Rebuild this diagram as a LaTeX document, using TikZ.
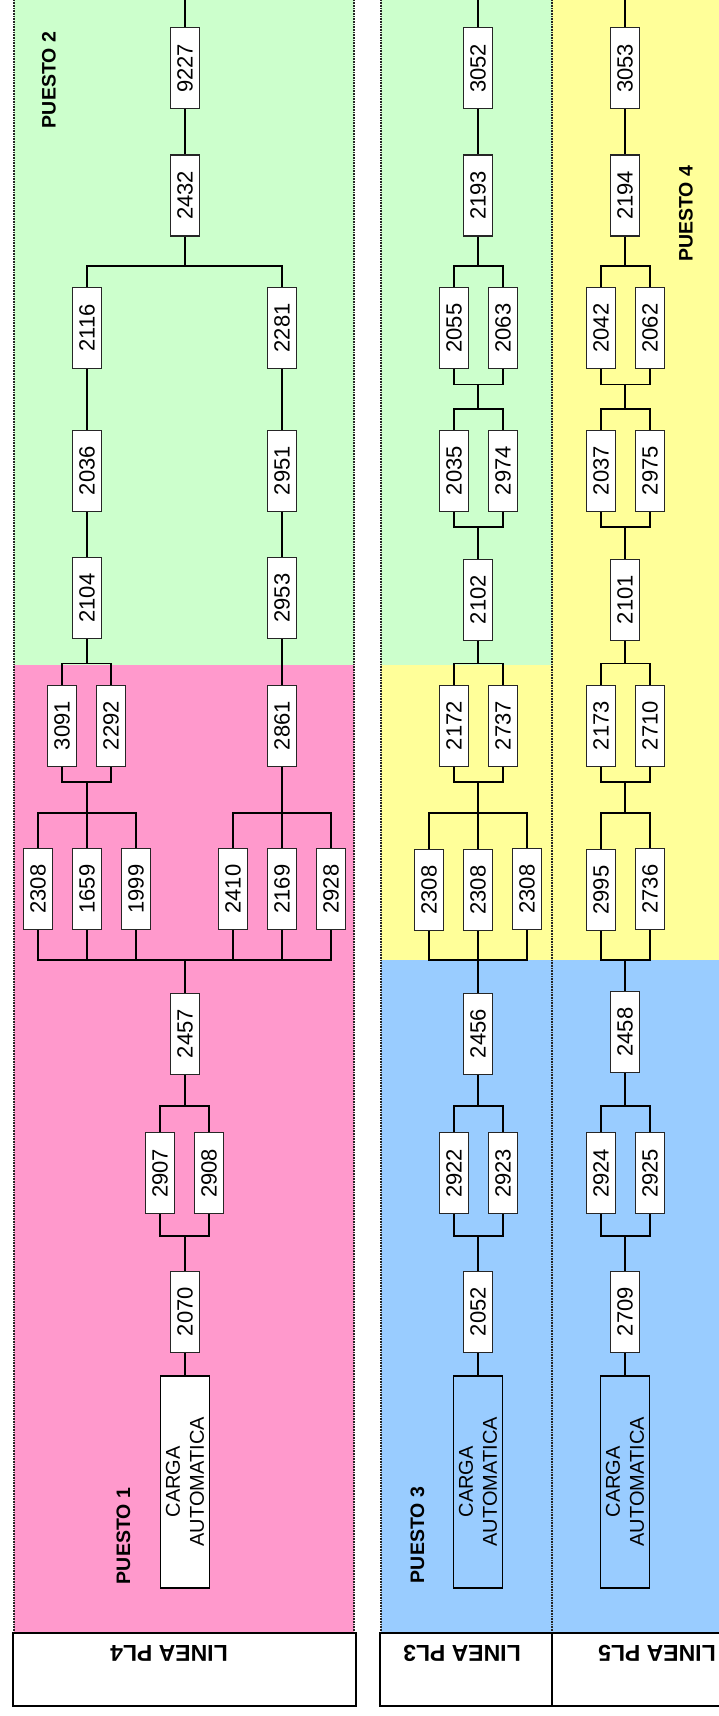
\documentclass[tikz,border=0pt]{standalone}
\usepackage{fontspec}
\setmainfont{Liberation Sans}
\definecolor{pgreen}{HTML}{CCFFCC}
\definecolor{ppink}{HTML}{FF99CC}
\definecolor{pyellow}{HTML}{FFFF99}
\definecolor{pblue}{HTML}{99CCFF}
% two parallel stations joined by a bar above and a bar below
\newcommand\pairwire[4]{%
  \draw[wire] (#1) -- (#1 |- #3) -- (#2 |- #3) -- (#2);
  \draw[wire] (#1) -- (#1 |- #4) -- (#2 |- #4) -- (#2);}
\begin{document}
\begin{tikzpicture}[x=1pt,y=-1pt,
  num/.style={draw=black!85, fill=white, line width=1.1pt, rotate=90,
    minimum width=81pt, minimum height=29pt, inner sep=0pt,
    font=\fontsize{22}{26}\selectfont},
  load/.style={draw=black, line width=1.6pt, rotate=90,
    minimum width=212pt, minimum height=49pt, inner sep=0pt, align=center,
    font=\fontsize{20}{24}\selectfont},
  wire/.style={line width=1.6pt, black},
  lane/.style={line width=1.6pt, black!85, dash pattern=on 0.8pt off 0.8pt},
  head/.style={draw=black, line width=1.6pt},
  puesto/.style={rotate=90, inner sep=0pt, font=\bfseries\fontsize{19.5}{22}\selectfont},
  linea/.style={rotate=180, inner sep=0pt, font=\bfseries\fontsize{23}{26}\selectfont}
]
\useasboundingbox (0,0) rectangle (719,1716);

% ---------- coloured zones ----------
\fill[pgreen]  (14,0)    rectangle (354,665);
\fill[ppink]   (14,665)  rectangle (354,1633);
\fill[pgreen]  (381,0)   rectangle (552,665);
\fill[pyellow] (381,665) rectangle (552,960);
\fill[pblue]   (381,960) rectangle (552,1633);
\fill[pyellow] (552,0)   rectangle (719,960);
\fill[pblue]   (552,960) rectangle (719,1633);

% ---------- lane borders ----------
\draw[lane] (14,0)  -- (14,1633);
\draw[lane] (354,0) -- (354,1633);
\draw[lane] (381,0) -- (381,1633);
\draw[lane] (552,0) -- (552,1633);

% ---------- line headers ----------
\draw[head] (12.7,1633) rectangle (356,1706);
\draw[head] (380,1633) rectangle (552,1706);
\draw[head] (719,1633) -- (552,1633) -- (552,1706) -- (719,1706);
\node[linea] (l4) at (169,1653) {LINEA PL4};
\node[linea] (l3) at (462,1653) {LINEA PL3};
\node[linea] (l5) at (657,1653) {LINEA PL5};

% ---------- station labels ----------
\node[puesto] (p2) at (49,80)       {PUESTO 2};
\node[puesto] (p1) at (123.5,1536)  {PUESTO 1};
\node[puesto] (p3) at (417.5,1535)  {PUESTO 3};
\node[puesto] (p4) at (686,213.7)   {PUESTO 4};

% =========== LINEA PL4 ===========
\node[num] (n9227) at (185,68.3)   {9227};
\node[num] (n2432) at (185,195.5)  {2432};
\node[num] (n2116) at (87,327.8)   {2116};
\node[num] (n2281) at (282,327.8)  {2281};
\node[num] (n2036) at (87,470.7)   {2036};
\node[num] (n2951) at (282,470.7)  {2951};
\node[num] (n2104) at (87,598.2)   {2104};
\node[num] (n2953) at (282,598.2)  {2953};
\node[num] (n3091) at (62,725.7)   {3091};
\node[num] (n2292) at (111,725.7)  {2292};
\node[num] (n2861) at (282,725.7)  {2861};
\node[num] (n2308l) at (38,889)    {2308};
\node[num] (n1659) at (87,889)     {1659};
\node[num] (n1999) at (136,889)    {1999};
\node[num] (n2410) at (233,889)    {2410};
\node[num] (n2169) at (282,889)    {2169};
\node[num] (n2928) at (331,889)    {2928};
\node[num] (n2457) at (185,1033.7) {2457};
\node[num] (n2907) at (160,1173.3) {2907};
\node[num] (n2908) at (209,1173.3) {2908};
\node[num] (n2070) at (185,1311.7) {2070};
\node[load, fill=white] (loadL) at (185,1481.8) {CARGA\\AUTOMATICA};

\coordinate (tL) at (185,0);
\coordinate (aL) at (185,266);
\coordinate (bL) at (87,663.3);
\coordinate (cL) at (87,781.7);
\coordinate (dL) at (87,812.7);
\coordinate (eL) at (185,960);
\coordinate (fL) at (185,1105.7);
\coordinate (gL) at (185,1235.7);

\draw[wire] (tL) -- (n9227);
\draw[wire] (n9227) -- (n2432);
\draw[wire] (n2432) -- (aL);
\draw[wire] (n2116) -- (n2116 |- aL) -- (n2281 |- aL) -- (n2281);
\draw[wire] (n2116) -- (n2036);
\draw[wire] (n2036) -- (n2104);
\draw[wire] (n2281) -- (n2951);
\draw[wire] (n2951) -- (n2953);
\draw[wire] (n2104) -- (bL);
\pairwire{n3091}{n2292}{bL}{cL}
\draw[wire] (cL) -- (dL);
\draw[wire] (n2308l) -- (n2308l |- dL) -- (n1999 |- dL) -- (n1999);
\draw[wire] (n1659) -- (dL);
\draw[wire] (n2953) -- (n2861);
\draw[wire] (n2861) -- (n2169);
\draw[wire] (n2410) -- (n2410 |- dL) -- (n2928 |- dL) -- (n2928);
\draw[wire] (n2308l) -- (n2308l |- eL) -- (n2928 |- eL) -- (n2928);
\draw[wire] (n1659) -- (n1659 |- eL);
\draw[wire] (n1999) -- (n1999 |- eL);
\draw[wire] (n2410) -- (n2410 |- eL);
\draw[wire] (n2169) -- (n2169 |- eL);
\draw[wire] (eL) -- (n2457);
\draw[wire] (n2457) -- (fL);
\pairwire{n2907}{n2908}{fL}{gL}
\draw[wire] (gL) -- (n2070);
\draw[wire] (n2070) -- (loadL);

% =========== LINEA PL3 ===========
\node[num] (n3052) at (478,68.3)   {3052};
\node[num] (n2193) at (478,195.5)  {2193};
\node[num] (n2055) at (454,328)    {2055};
\node[num] (n2063) at (503,328)    {2063};
\node[num] (n2035) at (454,470.7)  {2035};
\node[num] (n2974) at (503,470.7)  {2974};
\node[num] (n2102) at (478,599.7)  {2102};
\node[num] (n2172) at (454,725.7)  {2172};
\node[num] (n2737) at (503,725.7)  {2737};
\node[num] (n2308a) at (429,890)   {2308};
\node[num] (n2308b) at (478,890)   {2308};
\node[num] (n2308c) at (527,889)   {2308};
\node[num] (n2456) at (478,1033.7) {2456};
\node[num] (n2922) at (454,1173.3) {2922};
\node[num] (n2923) at (503,1173.3) {2923};
\node[num] (n2052) at (478,1311.7) {2052};
\node[load] (loadM) at (478,1481.8) {CARGA\\AUTOMATICA};

\coordinate (tM) at (478,0);
\coordinate (aM) at (478,266);
\coordinate (bM) at (478,384.3);
\coordinate (cM) at (478,409);
\coordinate (dM) at (478,526.7);
\coordinate (eM) at (478,663.3);
\coordinate (fM) at (478,781.7);
\coordinate (gM) at (478,812.7);
\coordinate (hM) at (478,960);
\coordinate (iM) at (478,1105.7);
\coordinate (kM) at (478,1235.7);

\draw[wire] (tM) -- (n3052);
\draw[wire] (n3052) -- (n2193);
\draw[wire] (n2193) -- (aM);
\pairwire{n2055}{n2063}{aM}{bM}
\draw[wire] (bM) -- (cM);
\pairwire{n2035}{n2974}{cM}{dM}
\draw[wire] (dM) -- (n2102);
\draw[wire] (n2102) -- (eM);
\pairwire{n2172}{n2737}{eM}{fM}
\draw[wire] (fM) -- (gM);
\pairwire{n2308a}{n2308c}{gM}{hM}
\draw[wire] (n2308b) -- (gM);
\draw[wire] (n2308b) -- (hM);
\draw[wire] (hM) -- (n2456);
\draw[wire] (n2456) -- (iM);
\pairwire{n2922}{n2923}{iM}{kM}
\draw[wire] (kM) -- (n2052);
\draw[wire] (n2052) -- (loadM);

% =========== LINEA PL5 ===========
\node[num] (n3053) at (625,68.3)   {3053};
\node[num] (n2194) at (625,195.5)  {2194};
\node[num] (n2042) at (601,328)    {2042};
\node[num] (n2062) at (650,328)    {2062};
\node[num] (n2037) at (601,470.7)  {2037};
\node[num] (n2975) at (650,470.7)  {2975};
\node[num] (n2101) at (625,599.7)  {2101};
\node[num] (n2173) at (601,725.7)  {2173};
\node[num] (n2710) at (650,725.7)  {2710};
\node[num] (n2995) at (601,890)    {2995};
\node[num] (n2736) at (650,889)    {2736};
\node[num] (n2458) at (625,1032)   {2458};
\node[num] (n2924) at (601,1173.3) {2924};
\node[num] (n2925) at (650,1173.3) {2925};
\node[num] (n2709) at (625,1311.7) {2709};
\node[load] (loadR) at (625,1481.8) {CARGA\\AUTOMATICA};

\coordinate (tR) at (625,0);
\coordinate (aR) at (625,266);
\coordinate (bR) at (625,384.3);
\coordinate (cR) at (625,409);
\coordinate (dR) at (625,526.7);
\coordinate (eR) at (625,663.3);
\coordinate (fR) at (625,781.7);
\coordinate (gR) at (625,812.7);
\coordinate (hR) at (625,960);
\coordinate (iR) at (625,1105.7);
\coordinate (kR) at (625,1235.7);

\draw[wire] (tR) -- (n3053);
\draw[wire] (n3053) -- (n2194);
\draw[wire] (n2194) -- (aR);
\pairwire{n2042}{n2062}{aR}{bR}
\draw[wire] (bR) -- (cR);
\pairwire{n2037}{n2975}{cR}{dR}
\draw[wire] (dR) -- (n2101);
\draw[wire] (n2101) -- (eR);
\pairwire{n2173}{n2710}{eR}{fR}
\draw[wire] (fR) -- (gR);
\pairwire{n2995}{n2736}{gR}{hR}
\draw[wire] (hR) -- (n2458);
\draw[wire] (n2458) -- (iR);
\pairwire{n2924}{n2925}{iR}{kR}
\draw[wire] (kR) -- (n2709);
\draw[wire] (n2709) -- (loadR);
\end{tikzpicture}
\end{document}
